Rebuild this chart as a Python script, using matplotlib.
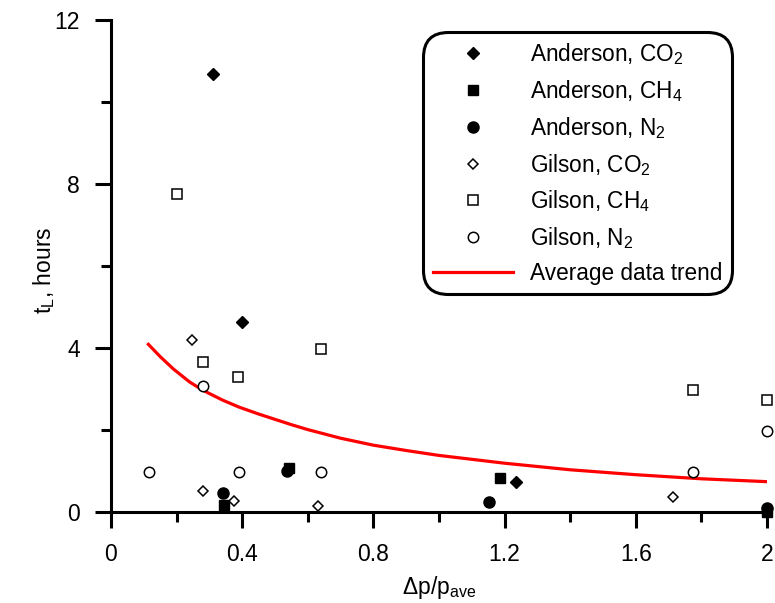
import matplotlib
matplotlib.use("Agg")
import matplotlib.pyplot as plt

plt.rcParams["font.family"] = ["Liberation Sans", "DejaVu Sans"]
plt.rcParams["mathtext.fontset"] = "custom"
plt.rcParams["mathtext.rm"] = "Liberation Sans"
plt.rcParams["mathtext.it"] = "Liberation Sans:italic"
plt.rcParams["mathtext.default"] = "regular"

# Anderson data
anderson_co2_x = [0.312, 0.40, 1.235]
anderson_co2_y = [10.68, 4.63, 0.73]
anderson_ch4_x = [0.345, 0.543, 1.186, 2.0]
anderson_ch4_y = [0.16, 1.07, 0.84, 0.0]
anderson_n2_x = [0.342, 0.536, 1.153, 2.0]
anderson_n2_y = [0.47, 1.0, 0.24, 0.1]

# Gilson data
gilson_co2_x = [0.246, 0.28, 0.376, 0.63, 1.712]
gilson_co2_y = [4.2, 0.52, 0.26, 0.15, 0.36]
gilson_ch4_x = [0.202, 0.28, 0.388, 0.639, 1.775, 2.0]
gilson_ch4_y = [7.75, 3.66, 3.30, 3.98, 2.98, 2.73]
gilson_n2_x = [0.116, 0.28, 0.389, 0.639, 1.775, 2.0]
gilson_n2_y = [0.98, 3.07, 0.98, 0.98, 0.98, 1.98]

# Average data trend
trend_x = [0.114, 0.15, 0.19, 0.24, 0.28, 0.34, 0.39, 0.45, 0.5, 0.55,
           0.6, 0.7, 0.8, 0.9, 1.0, 1.2, 1.4, 1.6, 1.8, 2.0]
trend_y = [4.09, 3.79, 3.49, 3.17, 2.97, 2.73, 2.56, 2.39, 2.26, 2.13,
           2.01, 1.80, 1.63, 1.50, 1.38, 1.19, 1.03, 0.91, 0.81, 0.74]

x_major = [0, 0.4, 0.8, 1.2, 1.6, 2.0]
x_major_labels = ["0", "0.4", "0.8", "1.2", "1.6", "2"]
x_minor = [0.2, 0.6, 1.0, 1.4, 1.8]
y_major = [0, 4, 8, 12]
y_major_labels = ["0", "4", "8", "12"]
y_minor = [2, 6, 10]

fig = plt.figure(figsize=(7.75, 6.03), dpi=100)
ax = fig.add_axes([0.1432, 0.1509, 0.8465, 0.8159])

common = dict(linestyle="none", clip_on=False, zorder=3)
ax.plot(anderson_co2_x, anderson_co2_y, marker="D", ms=6.2, color="black",
        label="Anderson, CO$_2$", **common)
ax.plot(anderson_ch4_x, anderson_ch4_y, marker="s", ms=7.5, color="black",
        label="Anderson, CH$_4$", **common)
ax.plot(anderson_n2_x, anderson_n2_y, marker="o", ms=8.0, color="black",
        label="Anderson, N$_2$", **common)
ax.plot(gilson_co2_x, gilson_co2_y, marker="D", ms=4.6, mfc="white",
        mec="black", mew=1.1, label="Gilson, CO$_2$", **common)
ax.plot(gilson_ch4_x, gilson_ch4_y, marker="s", ms=7.0, mfc="white",
        mec="black", mew=1.1, label="Gilson, CH$_4$", **common)
ax.plot(gilson_n2_x, gilson_n2_y, marker="o", ms=7.5, mfc="white",
        mec="black", mew=1.1, label="Gilson, N$_2$", **common)
ax.plot(trend_x, trend_y, color="#ff0000", lw=2.3, label="Average data trend",
        solid_joinstyle="round", zorder=2)

ax.set_xlim(0, 2)
ax.set_ylim(0, 12)
ax.set_xticks(x_major)
ax.set_xticklabels(x_major_labels)
ax.set_xticks(x_minor, minor=True)
ax.set_yticks(y_major)
ax.set_yticklabels(y_major_labels)
ax.set_yticks(y_minor, minor=True)

for side in ("top", "right"):
    ax.spines[side].set_visible(False)
for side in ("left", "bottom"):
    ax.spines[side].set_linewidth(2.2)

ax.tick_params(which="major", direction="out", length=11.5, width=2.2,
               labelsize=16.5, pad=11)
ax.tick_params(which="minor", direction="out", length=7, width=2.2)
ax.tick_params(axis="x", which="major", pad=11)

ax.set_xlabel(r"$\Delta$p/p$_{ave}$", fontsize=16.5)
ax.set_ylabel("t$_L$, hours", fontsize=16.5)
ax.xaxis.set_label_coords(0.5, -0.125)
ax.yaxis.set_label_coords(-0.082, 0.492)

leg = ax.legend(loc="upper left", bbox_to_anchor=(0.476, 0.976),
                borderaxespad=0, fontsize=16.3, frameon=True, fancybox=True,
                handlelength=3.55, handletextpad=0.75, labelspacing=0.48,
                borderpad=0.42, framealpha=1, edgecolor="black")
frame = leg.get_frame()
frame.set_linewidth(2.2)
frame.set_boxstyle("round,pad=0,rounding_size=1.1")

fig.savefig("out.png", dpi=100)
